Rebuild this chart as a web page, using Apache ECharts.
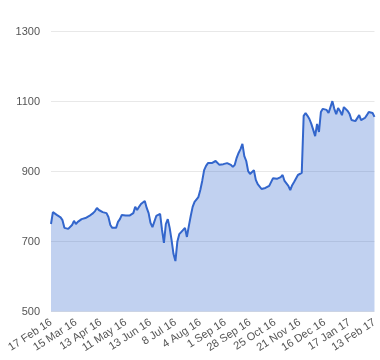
<!DOCTYPE html>
<html>
<head>
<meta charset="utf-8">
<script src="https://cdn.jsdelivr.net/npm/echarts@6/dist/echarts.min.js"></script>
<style>html,body{margin:0;padding:0;background:#fff}#c{width:380px;height:360px}</style>
</head>
<body>
<div id="c"></div>
<script>
const tickLabels = ['17 Feb 16','15 Mar 16','13 Apr 16','11 May 16','13 Jun 16','8 Jul 16','4 Aug 16','1 Sep 16','28 Sep 16','25 Oct 16','21 Nov 16','16 Dec 16','17 Jan 17','13 Feb 17'];
const labelStep = 13;
const yTicks = [500, 700, 900, 1100, 1300];
const values = [
750,784,786,776,773,769,761,739,741,736,
736,747,759,750,756,753,764,761,767,767,
773,776,781,787,796,790,787,784,783,781,
770,747,739,739,739,756,764,776,779,774,
773,774,776,781,799,790,799,807,807,816,
796,781,753,741,736,773,776,779,733,696,
750,764,739,704,664,644,699,721,727,730,
739,713,744,773,799,813,813,827,847,873,
904,916,924,919,924,927,930,927,919,916,
921,924,924,927,919,913,919,939,953,964,
979,944,930,901,893,891,904,876,864,859,
850,850,853,856,859,864,881,879,879,876,
884,890,873,870,859,847,861,870,873,890,
893,896,1059,1067,1059,1050,1036,1019,1001,1036,
1013,1070,1079,1084,1076,1067,1084,1101,1079,1064,
1081,1073,1061,1084,1079,1073,1064,1047,1044,1044,
1047,1061,1047,1044,1053,1061,1070,1073,1067,1056
];
const categories = values.map((_, i) => String(i));

const chart = echarts.init(document.getElementById('c'), null, {renderer: 'canvas'});
chart.setOption({
  animation: false,
  grid: {left: 51, right: 4, top: 31.5, bottom: 48.5, containLabel: false},
  xAxis: {
    type: 'category',
    data: categories,
    boundaryGap: false,
    axisLine: {show: false},
    axisTick: {show: false},
    splitLine: {show: false},
    axisLabel: {
      interval: labelStep - 1,
      rotate: 33,
      margin: 10,
      fontFamily: 'Liberation Sans, Arial, sans-serif',
      fontSize: 11,
      color: '#555',
      formatter: function (v, idx) { return tickLabels[Math.round(idx / labelStep)] || ''; }
    }
  },
  yAxis: {
    type: 'value',
    min: yTicks[0],
    max: yTicks[yTicks.length - 1],
    interval: 200,
    axisLine: {show: false},
    axisTick: {show: false},
    splitLine: {lineStyle: {color: '#e8e8e8', width: 1}},
    axisLabel: {
      margin: 11,
      fontFamily: 'Liberation Sans, Arial, sans-serif',
      fontSize: 11,
      color: '#555',
      formatter: function (v) { return String(v); }
    }
  },
  series: [{
    type: 'line',
    data: values,
    symbol: 'none',
    lineStyle: {color: '#3366cc', width: 2},
    itemStyle: {color: '#3366cc'},
    areaStyle: {color: '#3366cc', opacity: 0.3}
  }]
});
</script>
</body>
</html>
